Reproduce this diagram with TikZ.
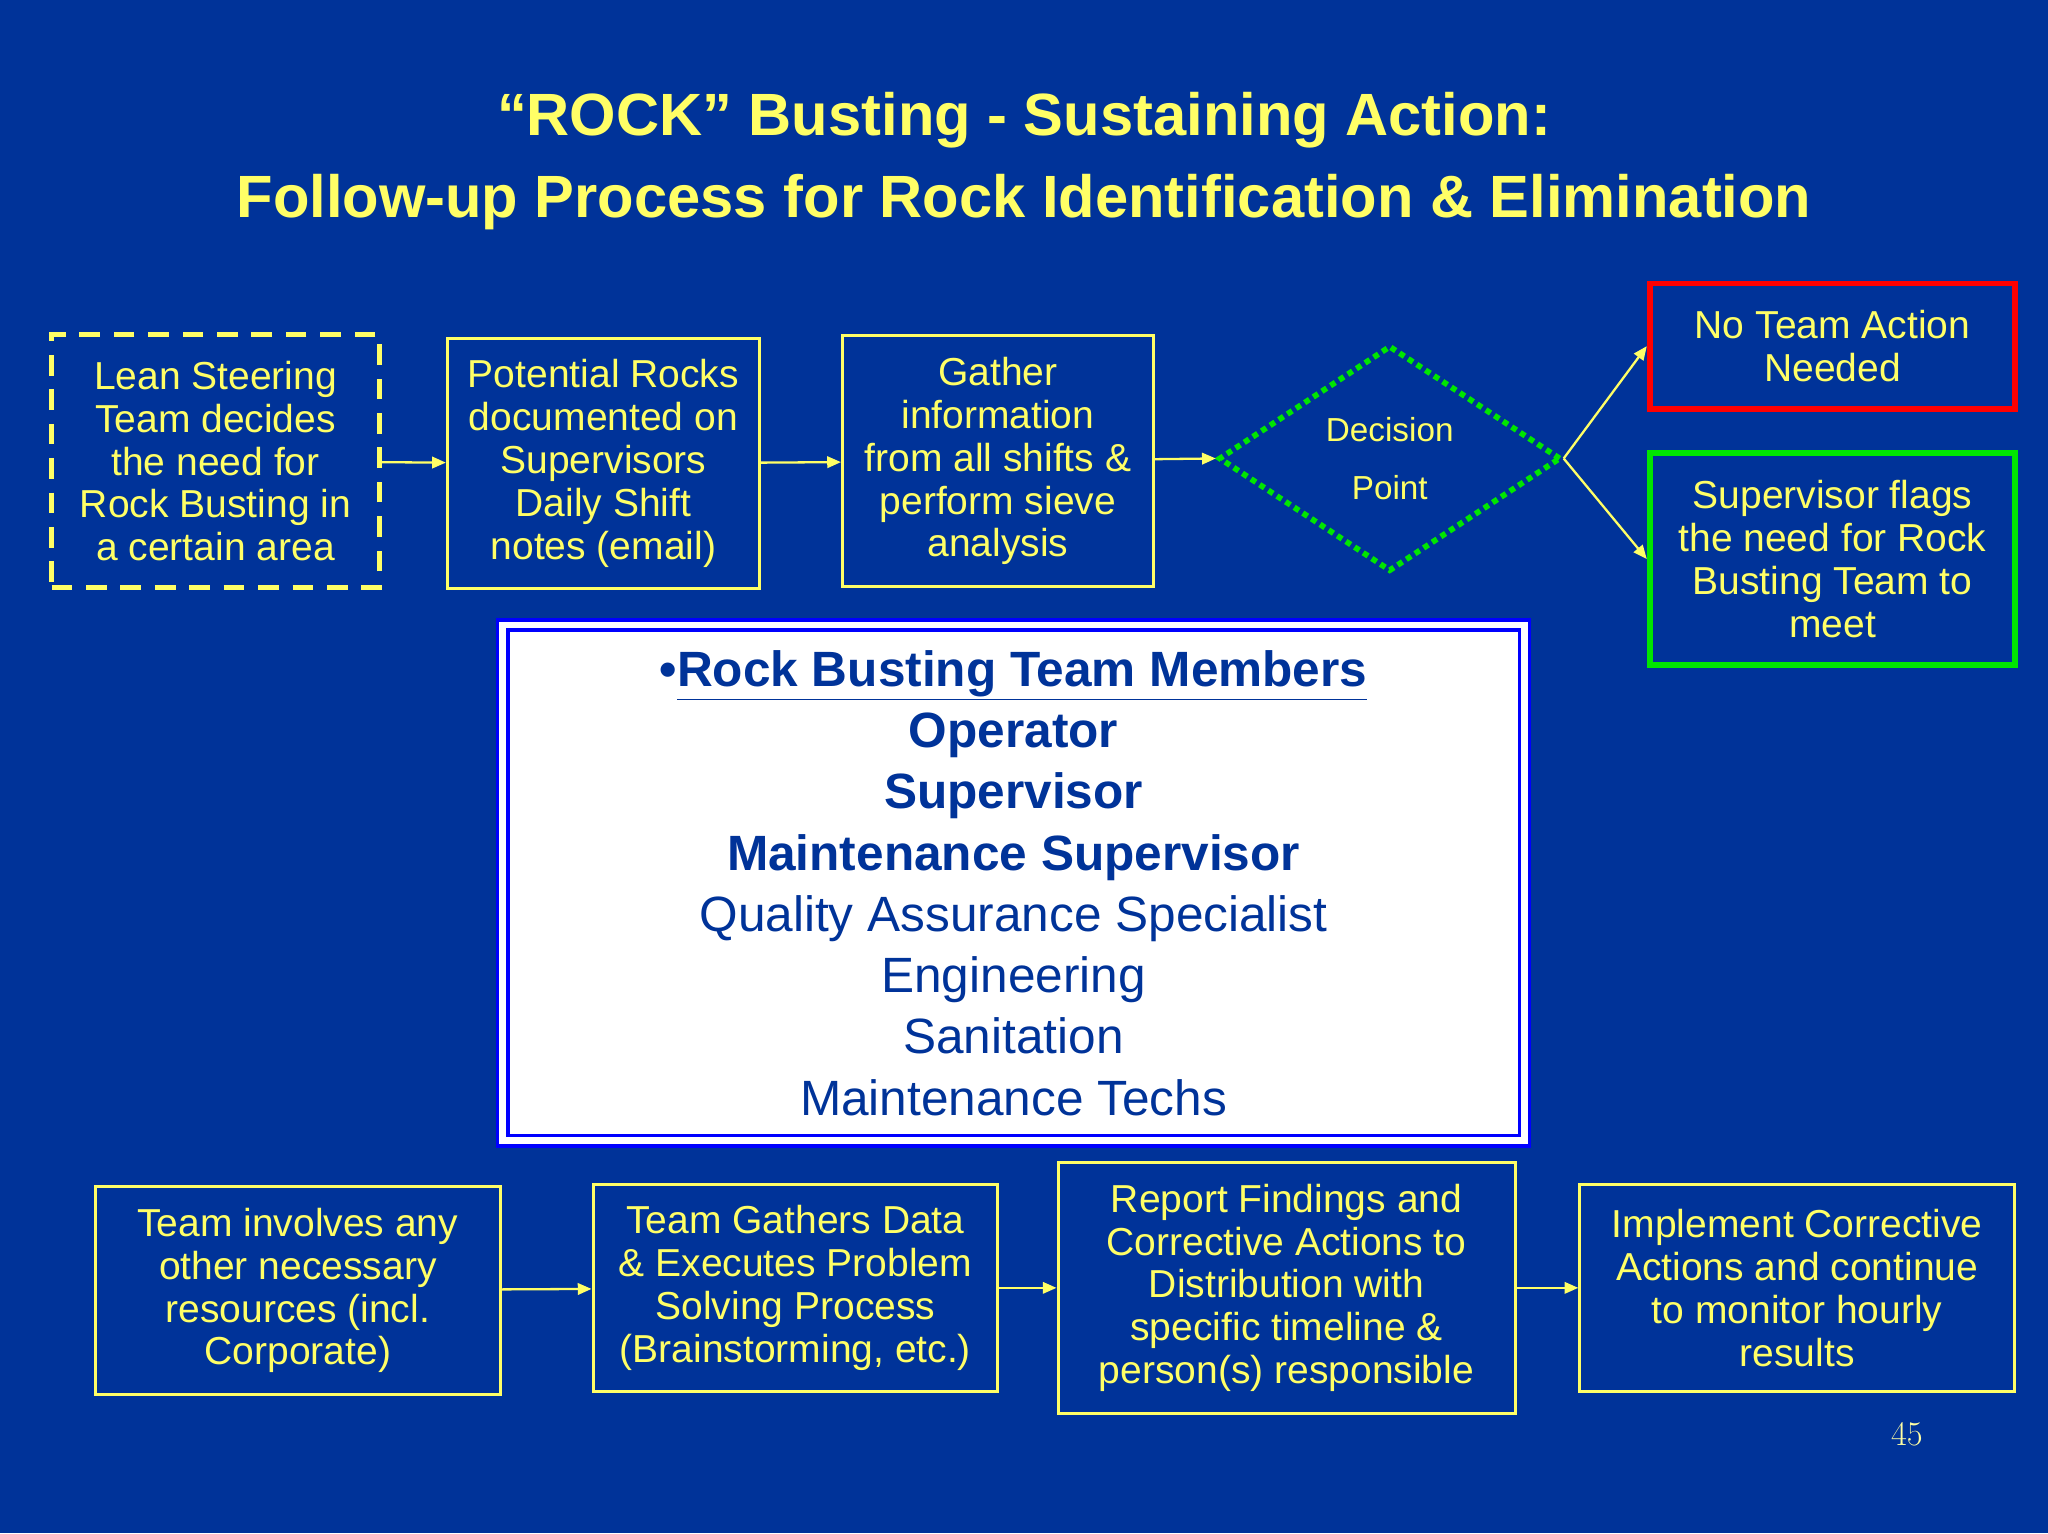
\documentclass[tikz,border=0pt]{standalone}
\usepackage{fontspec}
\setmainfont{Liberation Sans}
\usetikzlibrary{shapes.geometric,arrows.meta}
\definecolor{bg}{RGB}{0,51,153}
\definecolor{yel}{RGB}{255,255,102}
\definecolor{dblue}{RGB}{0,51,153}
\definecolor{grn}{RGB}{0,230,0}
\begin{document}
\begin{tikzpicture}[x=0.02cm,y=-0.02cm,
  box/.style={draw=yel,line width=1.3pt,text=yel,align=center,inner sep=0pt,
    font=\fontsize{17}{18.7}\selectfont},
  arr/.style={draw=yel,line width=1pt,-{Triangle[length=6pt,width=5pt]}}]
\fill[bg] (0,0) rectangle (1568,1174);
\useasboundingbox (0,0) rectangle (1568,1174);
\node[text=yel,font=\bfseries\fontsize{26}{30}\selectfont] (t1) at (784,92) {“ROCK” Busting - Sustaining Action:};
\node[text=yel,font=\bfseries\fontsize{26}{30}\selectfont] (t2) at (784,155) {Follow-up Process for Rock Identification \& Elimination};

\node[box,dashed,dash pattern=on 9pt off 6pt,line width=2pt,minimum width=5.02cm,minimum height=3.88cm] (lean) at (165,353)
 {Lean Steering\\Team decides\\the need for\\Rock Busting in\\a certain area};
\node[box,minimum width=4.78cm,minimum height=3.82cm] (pot) at (462,355)
 {Potential Rocks\\documented on\\Supervisors\\Daily Shift\\notes (email)};
\node[box,minimum width=4.76cm,minimum height=3.84cm] (gat) at (764,353)
 {Gather\\information\\from all shifts \&\\perform sieve\\analysis};
\node[diamond,draw=grn,dotted,line width=2.5pt,minimum width=5.24cm,minimum height=3.46cm,inner sep=0pt,
  text=yel,align=center,font=\fontsize{14.5}{25}\selectfont] (dec) at (1064,351) {Decision\\Point};
\node[box,draw=red,line width=2.5pt,minimum width=5.6cm,minimum height=1.92cm] (no) at (1403,265)
 {No Team Action\\Needed};
\node[box,draw=grn,line width=2.5pt,minimum width=5.6cm,minimum height=3.24cm] (sup) at (1403,428)
 {Supervisor flags\\the need for Rock\\Busting Team to\\meet};

\node[draw=blue,line width=1.5pt,double=white,double distance=3pt,fill=white,minimum width=15.65cm,minimum height=7.9cm,
  inner sep=0pt,align=center,text=dblue,font=\fontsize{21.6}{26.7}\selectfont] (mem) at (776,676)
 {\textbf{•\underline{Rock Busting Team Members}}\\\textbf{Operator}\\\textbf{Supervisor}\\\textbf{Maintenance Supervisor}\\
  Quality Assurance Specialist\\Engineering\\Sanitation\\Maintenance Techs};

\node[box,minimum width=6.2cm,minimum height=3.18cm] (inv) at (228,988)
 {Team involves any\\other necessary\\resources (incl.\\Corporate)};
\node[box,minimum width=6.2cm,minimum height=3.18cm] (tg) at (609,986)
 {Team Gathers Data\\\& Executes Problem\\Solving Process\\(Brainstorming, etc.)};
\node[box,minimum width=7.0cm,minimum height=3.84cm] (rep) at (985,986)
 {Report Findings and\\Corrective Actions to\\Distribution with\\specific timeline \&\\person(s) responsible};
\node[box,minimum width=6.66cm,minimum height=3.18cm] (imp) at (1376,986)
 {Implement Corrective\\Actions and continue\\to monitor hourly\\results};

\node[text=yel!60!white,font=\fontfamily{lmr}\fontsize{15}{18}\selectfont] (pg) at (1460,1098) {45};

\draw[arr] (lean) -- (pot);
\draw[arr] (pot) -- (gat);
\draw[arr] (gat) -- (dec.west);
\draw[arr] (dec.east) -- (no.west);
\draw[arr] (dec.east) -- (sup.west);
\draw[arr] (inv) -- (tg);
\draw[arr] (tg) -- (rep);
\draw[arr] (rep) -- (imp);
\end{tikzpicture}
\end{document}
